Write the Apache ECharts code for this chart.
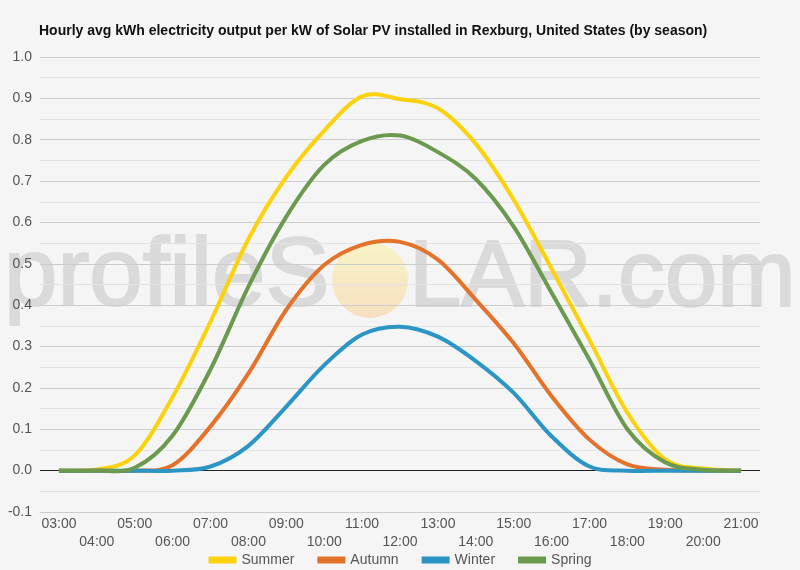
<!DOCTYPE html>
<html>
<head>
<meta charset="utf-8">
<script src="https://cdn.jsdelivr.net/npm/echarts@6/dist/echarts.min.js"></script>
<style>
html,body{margin:0;padding:0;background:#f5f5f5;}
#c{width:800px;height:570px;}
</style>
</head>
<body>
<div id="c"></div>
<script>
var titleText = 'Hourly avg kWh electricity output per kW of Solar PV installed in Rexburg, United States (by season)';
var hours = ['03:00','04:00','05:00','06:00','07:00','08:00','09:00','10:00','11:00','12:00','13:00','14:00','15:00','16:00','17:00','18:00','19:00','20:00','21:00'];
var seasonNames = ['Summer','Autumn','Winter','Spring'];
var summer = [0, 0.003, 0.037, 0.178, 0.36, 0.56, 0.71, 0.822, 0.905, 0.898, 0.876, 0.79, 0.655, 0.488, 0.316, 0.14, 0.027, 0.005, 0];
var autumn = [0, 0, 0, 0.013, 0.107, 0.235, 0.389, 0.497, 0.546, 0.553, 0.51, 0.413, 0.308, 0.18, 0.075, 0.015, 0.002, 0, 0];
var winter = [0, 0, 0, 0, 0.01, 0.06, 0.155, 0.255, 0.329, 0.348, 0.324, 0.265, 0.188, 0.083, 0.01, 0, 0, 0, 0];
var spring = [0, 0, 0.007, 0.085, 0.245, 0.445, 0.614, 0.739, 0.797, 0.81, 0.77, 0.705, 0.59, 0.43, 0.268, 0.1, 0.02, 0.002, 0];
var seasonColors = ['#fbd20c', '#e5722a', '#2b95c5', '#6b9a4f'];

var chart = echarts.init(document.getElementById('c'));
var seriesData = [summer, autumn, winter, spring];
var splitColors = [];
for (var k = 0; k < 12; k++) splitColors.push(k === 1 ? '#222222' : '#cccccc');

function smoothRender(params, api) {
  if (params.dataIndex !== 0) return null;
  var vals = seriesData[params.seriesIndex];
  var n = vals.length;
  var pts = [];
  for (var i = 0; i < n; i++) pts.push(api.coord([i, vals[i]]));
  var d = 'M' + pts[0][0] + ' ' + pts[0][1];
  for (var j = 0; j < n - 1; j++) {
    var p0 = pts[Math.max(j - 1, 0)], p1 = pts[j], p2 = pts[j + 1], p3 = pts[Math.min(j + 2, n - 1)];
    var c1x = p1[0] + (p2[0] - p0[0]) / 6, c1y = p1[1] + (p2[1] - p0[1]) / 6;
    var c2x = p2[0] - (p3[0] - p1[0]) / 6, c2y = p2[1] - (p3[1] - p1[1]) / 6;
    d += ' C' + c1x + ' ' + c1y + ' ' + c2x + ' ' + c2y + ' ' + p2[0] + ' ' + p2[1];
  }
  return {
    type: 'path',
    shape: {pathData: d},
    style: {fill: 'none', stroke: seasonColors[params.seriesIndex], lineWidth: 4, lineJoin: 'round', lineCap: 'butt'}
  };
}

chart.setOption({
  backgroundColor: '#f5f5f5',
  animation: false,
  color: seasonColors,
  title: {
    text: titleText,
    left: 34,
    top: 19,
    textStyle: {fontFamily: 'Liberation Sans, Arial, sans-serif', fontSize: 14, fontWeight: 'bold', color: '#111'}
  },
  graphic: {
    elements: [
      {type: 'text', left: 3, top: 230, z: -10, silent: true,
       style: {text: 'profileS', font: '96px "Liberation Sans", Arial, sans-serif', fill: '#dadada', stroke: '#dadada', lineWidth: 2}},
      {type: 'circle', z: -9, silent: true, shape: {cx: 370, cy: 280, r: 38},
       style: {fill: new echarts.graphic.LinearGradient(0, 0, 0, 1, [
         {offset: 0, color: '#f8f4c6'},
         {offset: 1, color: '#f6dfc0'}])}},
      {type: 'text', left: 408, top: 232, z: -10, silent: true,
       style: {text: 'LAR.com', font: '94px "Liberation Sans", Arial, sans-serif', fill: '#dadada', stroke: '#dadada', lineWidth: 2}}
    ]
  },
  legend: {
    top: 548,
    left: 'center',
    icon: 'rect',
    itemWidth: 28,
    itemHeight: 7,
    itemGap: 23,
    data: seasonNames,
    textStyle: {fontFamily: 'Liberation Sans, Arial, sans-serif', fontSize: 14, color: '#555'}
  },
  grid: {left: 40, right: 40, top: 57, bottom: 58, containLabel: false},
  xAxis: {
    type: 'category',
    data: hours,
    boundaryGap: true,
    axisTick: {show: false},
    axisLine: {show: true, onZero: false, lineStyle: {color: '#cccccc'}},
    axisLabel: {
      interval: 0,
      margin: 3,
      color: '#555',
      fontSize: 14,
      lineHeight: 18,
      fontFamily: 'Liberation Sans, Arial, sans-serif',
      formatter: function (v, i) { return i % 2 ? '\n' + v : v; }
    }
  },
  yAxis: {
    type: 'value',
    min: -0.1,
    max: 1.0,
    interval: 0.1,
    axisLine: {show: false},
    axisTick: {show: false},
    axisLabel: {
      margin: 8,
      color: '#555',
      fontSize: 14,
      fontFamily: 'Liberation Sans, Arial, sans-serif',
      formatter: function (v) { return v.toFixed(1); }
    },
    splitLine: {show: true, lineStyle: {color: splitColors, width: 1}},
    minorTick: {show: false, splitNumber: 2},
    minorSplitLine: {show: true, lineStyle: {color: '#e3e3e3', width: 1}}
  },
  series: seasonNames.map(function (n, i) {
    return {
      name: n,
      type: 'custom',
      coordinateSystem: 'cartesian2d',
      data: seriesData[i].map(function (v, idx) { return [idx, v]; }),
      encode: {x: 0, y: 1},
      renderItem: smoothRender,
      itemStyle: {color: seasonColors[i]},
      clip: false,
      silent: true
    };
  })
});
</script>
</body>
</html>
